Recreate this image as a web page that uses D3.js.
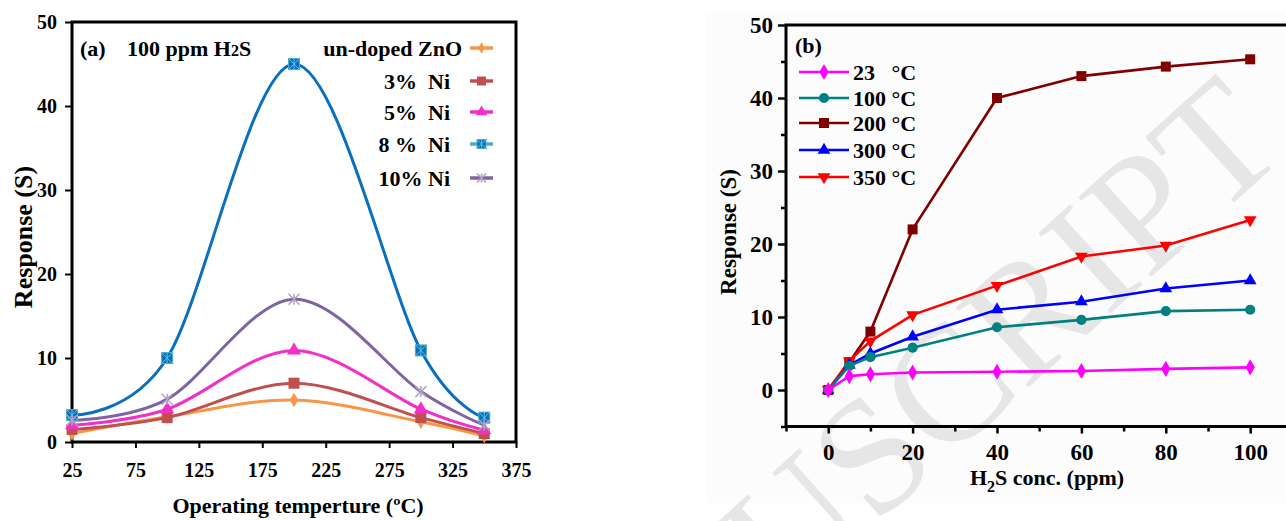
<!DOCTYPE html>
<html>
<head>
<meta charset="utf-8">
<script src="https://cdn.jsdelivr.net/npm/d3@7"></script>
<style>
  html, body { margin: 0; padding: 0; background: #fff; }
  svg { display: block; }
  text { font-family: "Liberation Serif", "Times New Roman", serif; font-weight: bold; fill: #000; }
</style>
</head>
<body>
<svg id="chart" width="1286" height="521"></svg>
<script>
// ---------- Panel (a) data ----------
const tempA = [25, 100, 200, 300, 350];
const xTicksA = [25, 75, 125, 175, 225, 275, 325, 375];
const yTicksA = [0, 10, 20, 30, 40, 50];
const namesA = ["un-doped ZnO", "3%\u00a0\u00a0Ni", "5%\u00a0\u00a0Ni", "8\u00a0%\u00a0\u00a0Ni", "10%\u00a0Ni"];
const undopedZnO = [1.0, 3.0, 5.0, 2.4, 0.7];
const ni3 = [1.5, 2.9, 7.0, 2.9, 1.0];
const ni5 = [2.0, 3.9, 10.9, 3.9, 1.4];
const ni8 = [3.2, 10.0, 45.0, 10.9, 2.9];
const ni10 = [2.6, 5.1, 17.0, 6.0, 2.0];
const colorsA = ["#f79646", "#c0504d", "#f030c8", "#0a6fbe", "#8064a2"];
const markersA = ["diamond", "square", "triangle", "squareX", "star"];

// ---------- Panel (b) data ----------
const concB = [0, 5, 10, 20, 40, 60, 80, 100];
const xTicksB = [0, 20, 40, 60, 80, 100];
const yTicksB = [0, 10, 20, 30, 40, 50];
const namesB = ["23\u00a0\u00a0\u00a0\u00b0C", "100 \u00b0C", "200 \u00b0C", "300 \u00b0C", "350 \u00b0C"];
const t23 = [0, 1.9, 2.15, 2.4, 2.5, 2.6, 2.9, 3.1];
const t100 = [0, 3.3, 4.5, 5.8, 8.6, 9.6, 10.8, 11.0];
const t200 = [0, 3.8, 8.0, 22.0, 40.0, 43.0, 44.3, 45.3];
const t300 = [0, 3.4, 5.0, 7.3, 11.0, 12.1, 13.9, 15.0];
const t350 = [0, 4.0, 6.7, 10.3, 14.3, 18.3, 19.8, 23.3];
const colorsB = ["#ff00ff", "#008080", "#800000", "#0000ff", "#ff0000"];
const markersB = ["diamond", "circle", "square", "triangle", "triangleDown"];

const svg = d3.select("#chart");
svg.append("rect").attr("width", 1286).attr("height", 521).attr("fill", "#fff");

// faint panel (b) background + watermark
svg.append("rect").attr("x", 707).attr("y", 13).attr("width", 579).attr("height", 490).attr("fill", "#fcfcfc");
svg.append("text")
  .attr("transform", "translate(1290,152) rotate(-42)")
  .attr("text-anchor", "end")
  .style("font-weight", "normal")
  .style("font-size", "165px")
  .style("fill", "#e6e6e6")
  .text("MANUSCRIPT");

function drawMarker(g, type, x, y, color, s) {
  const sym = {
    diamond: d3.symbolDiamond, square: d3.symbolSquare, triangle: d3.symbolTriangle,
    circle: d3.symbolCircle, triangleDown: d3.symbolTriangle
  };
  if (type === "star") {
    const r = s / 2;
    const p = `M${x - r},${y - r}L${x + r},${y + r}M${x - r},${y + r}L${x + r},${y - r}M${x},${y - r}L${x},${y + r}`;
    g.append("path").attr("d", p).attr("stroke", "#b3a2c7").attr("stroke-width", 1.5).attr("fill", "none");
    return;
  }
  if (type === "squareX") {
    const r = s / 2;
    g.append("rect").attr("x", x - r).attr("y", y - r).attr("width", s).attr("height", s)
      .attr("fill", color).attr("stroke", "#4bacc6").attr("stroke-width", 1);
    const p = `M${x - r},${y - r}L${x + r},${y + r}M${x - r},${y + r}L${x + r},${y - r}M${x},${y - r}L${x},${y + r}`;
    g.append("path").attr("d", p).attr("stroke", "#5bc0de").attr("stroke-width", 1).attr("fill", "none");
    return;
  }
  const area = s * s * (type === "diamond" ? 0.75 : type === "circle" ? 0.8 : type.startsWith("tri") ? 0.7 : 1);
  g.append("path")
    .attr("d", d3.symbol().type(sym[type]).size(area)())
    .attr("transform", `translate(${x},${y})` + (type === "triangleDown" ? " rotate(180)" : ""))
    .attr("fill", color);
}

// ================= Panel (a) =================
const xA = d3.scaleLinear().domain([25, 375]).range([72, 516]);
const yA = d3.scaleLinear().domain([0, 50]).range([442, 22]);
const gA = svg.append("g");
const seriesA = [undopedZnO, ni3, ni5, ni8, ni10];

const axA_y = gA.append("g").attr("transform", `translate(${xA(25)},0)`)
  .call(d3.axisLeft(yA).tickValues(yTicksA).tickSize(7).tickSizeOuter(0).tickPadding(8));
const axA_x = gA.append("g").attr("transform", `translate(0,${yA(0)})`)
  .call(d3.axisBottom(xA).tickValues(xTicksA).tickSize(6).tickSizeOuter(0).tickPadding(15));
[axA_y, axA_x].forEach(ax => {
  ax.select(".domain").remove();
  ax.selectAll("line").attr("stroke", "#000").attr("stroke-width", 2);
  ax.selectAll("text").style("font-size", "20px").style("font-family", "Liberation Serif").style("font-weight", "bold").attr("fill", "#000");
});
gA.append("rect").attr("x", xA(25)).attr("y", yA(50)).attr("width", xA(375) - xA(25)).attr("height", yA(0) - yA(50))
  .attr("fill", "none").attr("stroke", "#000").attr("stroke-width", 3);

const lineA = d3.line().x((d, i) => xA(tempA[i])).y(d => yA(d)).curve(d3.curveCardinal.tension(0));
seriesA.forEach((s, k) => {
  gA.append("path").attr("d", lineA(s)).attr("fill", "none").attr("stroke", colorsA[k]).attr("stroke-width", 3);
});
seriesA.forEach((s, k) => {
  s.forEach((v, i) => drawMarker(gA, markersA[k], xA(tempA[i]), yA(v), colorsA[k], markersA[k] === "diamond" ? 9 : 11));
});

// legend (a)
const legRowsA = [48, 81, 112, 144, 178];
const legEndA = [462, 450, 450, 450, 450];
namesA.forEach((n, k) => {
  gA.append("text").attr("x", legEndA[k]).attr("y", legRowsA[k] + 8).attr("text-anchor", "end")
    .style("font-size", "22px").text(n);
  gA.append("line").attr("x1", 470).attr("x2", 493).attr("y1", legRowsA[k]).attr("y2", legRowsA[k])
    .attr("stroke", k === 3 ? "#4bacc6" : colorsA[k]).attr("stroke-width", 3.5);
  drawMarker(gA, markersA[k], 481.5, legRowsA[k], colorsA[k], markersA[k] === "diamond" ? 7 : 9);
});
gA.append("text").attr("x", 80).attr("y", 56).style("font-size", "22px").text("(a)");
const t1 = gA.append("text").attr("x", 127).attr("y", 56).style("font-size", "22px");
t1.append("tspan").text("100 ppm H");
t1.append("tspan").style("font-size", "16px").text("2");
t1.append("tspan").text("S");

gA.append("text").attr("x", 298).attr("y", 513).attr("text-anchor", "middle").style("font-size", "22px")
  .text("Operating temperture (\u00baC)");
gA.append("text").attr("transform", "translate(32,237) rotate(-90)").attr("text-anchor", "middle")
  .style("font-size", "26px").text("Response (S)");

// ================= Panel (b) =================
const xB = d3.scaleLinear().domain([-10, 110]).range([786, 1292.4]);
const yB = d3.scaleLinear().domain([-5, 50]).range([426.5, 25]);
const gB = svg.append("g");

const axB_y = gB.append("g").attr("transform", `translate(${xB(-10)},0)`)
  .call(d3.axisLeft(yB).tickValues(yTicksB).tickSize(8).tickSizeOuter(0).tickPadding(5));
const axB_ym = gB.append("g").attr("transform", `translate(${xB(-10)},0)`)
  .call(d3.axisLeft(yB).tickValues(d3.range(-5, 50, 10)).tickSize(5).tickFormat(""));
const axB_x = gB.append("g").attr("transform", `translate(0,${yB(-5)})`)
  .call(d3.axisBottom(xB).tickValues(xTicksB).tickSize(7).tickSizeOuter(0).tickPadding(10));
const axB_xm = gB.append("g").attr("transform", `translate(0,${yB(-5)})`)
  .call(d3.axisBottom(xB).tickValues(d3.range(-10, 111, 20)).tickSize(5).tickFormat(""));
[axB_y, axB_ym, axB_x, axB_xm].forEach(ax => {
  ax.select(".domain").remove();
  ax.selectAll("line").attr("stroke", "#000").attr("stroke-width", 2.5);
  ax.selectAll("text").style("font-size", "23px").style("font-family", "Liberation Serif").style("font-weight", "bold").attr("fill", "#000");
});
gB.append("path")
  .attr("d", `M${xB(110) + 5},${yB(50)}L${xB(-10)},${yB(50)}L${xB(-10)},${yB(-5)}L${xB(110) + 5},${yB(-5)}`)
  .attr("fill", "none").attr("stroke", "#000").attr("stroke-width", 3);

const seriesB = [t23, t100, t200, t300, t350];
const lineB = d3.line().x((d, i) => xB(concB[i])).y(d => yB(d));
const orderB = [2, 4, 3, 1, 0];
orderB.forEach(k => {
  gB.append("path").attr("d", lineB(seriesB[k])).attr("fill", "none").attr("stroke", colorsB[k]).attr("stroke-width", 2.6);
  seriesB[k].forEach((v, i) => drawMarker(gB, markersB[k], xB(concB[i]), yB(v), colorsB[k], 10));
});

// legend (b)
const legRowsB = [72, 98, 123, 150, 177];
namesB.forEach((n, k) => {
  gB.append("line").attr("x1", 799).attr("x2", 849).attr("y1", legRowsB[k]).attr("y2", legRowsB[k])
    .attr("stroke", colorsB[k]).attr("stroke-width", 2.6);
  drawMarker(gB, markersB[k], 824, legRowsB[k], colorsB[k], 10);
  gB.append("text").attr("x", 853).attr("y", legRowsB[k] + 8).style("font-size", "22px").text(n);
});
gB.append("text").attr("x", 795).attr("y", 53).style("font-size", "22px").text("(b)");

const t2 = gB.append("text").attr("x", 1047).attr("y", 485).attr("text-anchor", "middle").style("font-size", "22px");
t2.append("tspan").text("H");
t2.append("tspan").attr("dy", 7).style("font-size", "16px").text("2");
t2.append("tspan").attr("dy", -7).text("S conc. (ppm)");
gB.append("text").attr("transform", "translate(736,232) rotate(-90)").attr("text-anchor", "middle")
  .style("font-size", "23px").text("Response (S)");
</script>
</body>
</html>
